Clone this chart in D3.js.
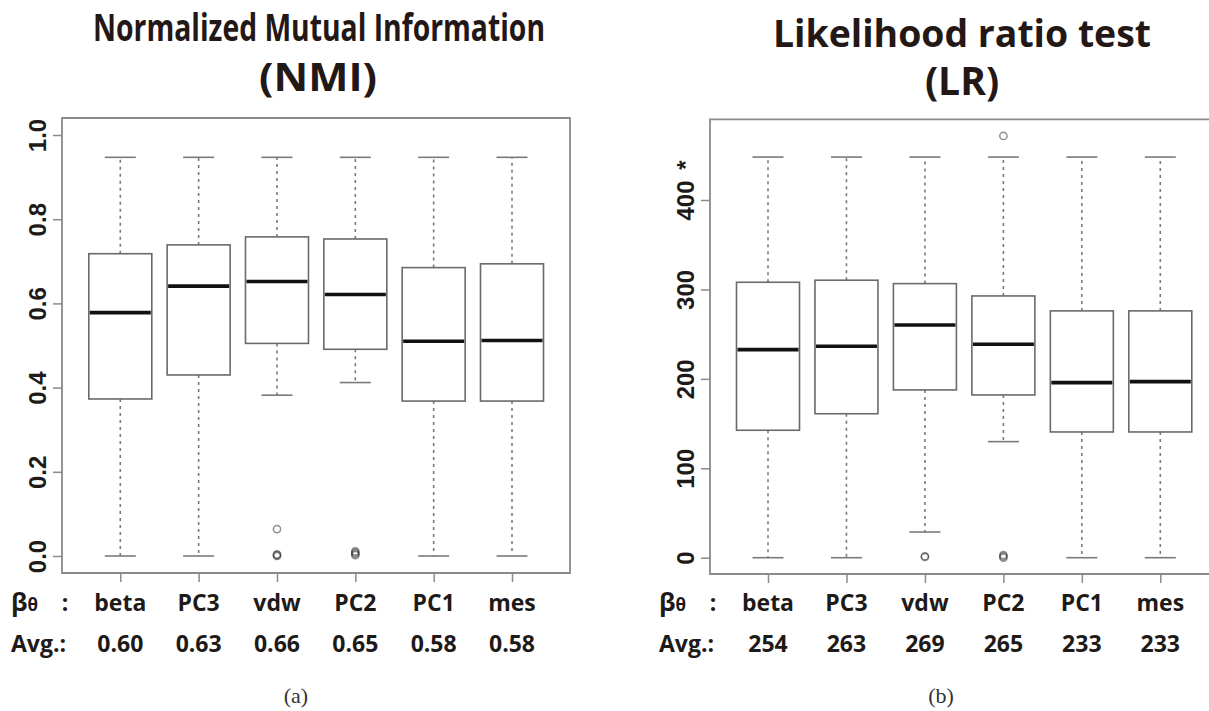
<!DOCTYPE html>
<html>
<head>
<meta charset="utf-8">
<script src="https://d3js.org/d3.v7.min.js"></script>
<style>
  html, body { margin: 0; padding: 0; background: #fff; }
  svg { display: block; }
</style>
</head>
<body>
<svg id="chart" width="1209" height="711"></svg>
<script>
// Shared categories (beta-theta method) for both panels
const categories = ["beta", "PC3", "vdw", "PC2", "PC1", "mes"];

// Panel (a): Normalized Mutual Information
const nmiLowerWhisker = [0.0, 0.0, 0.382, 0.412, 0.0, 0.0];
const nmiQ1           = [0.373, 0.430, 0.505, 0.491, 0.368, 0.368];
const nmiMedian       = [0.578, 0.641, 0.652, 0.621, 0.510, 0.512];
const nmiQ3           = [0.718, 0.739, 0.758, 0.753, 0.685, 0.694];
const nmiUpperWhisker = [0.947, 0.947, 0.947, 0.947, 0.947, 0.947];
const nmiOutliers     = [[], [], [0.064, 0.0, 0.002, 0.004], [0.002, 0.005, 0.008, 0.011], [], []];
const nmiAvg          = ["0.60", "0.63", "0.66", "0.65", "0.58", "0.58"];
const nmiTicks        = [0, 0.2, 0.4, 0.6, 0.8, 1.0];

// Panel (b): Likelihood ratio test
const lrLowerWhisker = [0, 0, 28.7, 129.8, 0, 0];
const lrQ1           = [142.5, 161.0, 187.6, 182.0, 140.6, 140.6];
const lrMedian       = [232.7, 236.5, 260.3, 238.7, 195.8, 196.9];
const lrQ3           = [308.0, 310.3, 306.5, 292.7, 276.0, 276.0];
const lrUpperWhisker = [448, 448, 448, 448, 448, 448];
const lrOutliers     = [[], [], [0.8, 1.6], [471.7, 0.0, 1.5, 3.0], [], []];
const lrAvg          = ["254", "263", "269", "265", "233", "233"];
const lrTicks        = [0, 100, 200, 300, 400];

const svg = d3.select("#chart");
const ink = "#1e1a18";
const labelFont = "'Open Sans', 'Noto Sans', sans-serif";

function drawPanel(p) {
  const g = svg.append("g");

  const y = d3.scaleLinear().domain(p.yDomain).range(p.yRange);
  const x = d3.scalePoint().domain(categories).range(p.xRange);

  // plot frame
  g.append("path")
    .attr("d", p.closedRight
      ? `M${p.left},${p.top}H${p.right}V${p.bottom}H${p.left}Z`
      : `M${p.right},${p.top}H${p.left}V${p.bottom}H${p.right}`)
    .attr("fill", "none").attr("stroke", "#8a8a8a").attr("stroke-width", 1.8);

  // y axis with rotated labels
  const yAxis = g.append("g").attr("transform", `translate(${p.left},0)`)
    .call(d3.axisLeft(y).tickValues(p.ticks).tickSize(9).tickFormat(p.tickFormat));
  yAxis.select(".domain").remove();
  yAxis.selectAll(".tick line").attr("stroke", "#8a8a8a").attr("stroke-width", 1.5);
  yAxis.selectAll(".tick text")
    .attr("transform", "rotate(-90)")
    .attr("x", 0).attr("y", -16).attr("dy", 0)
    .attr("text-anchor", "middle")
    .attr("fill", ink)
    .style("font-family", "'Liberation Sans', Arial, sans-serif")
    .style("font-weight", "bold")
    .style("font-size", "24px");

  if (p.star !== undefined) {
    g.append("text")
      .attr("transform", `translate(${p.left - 16},${y(p.star)}) rotate(-90)`)
      .attr("text-anchor", "middle")
      .attr("fill", ink)
      .style("font-family", "'Liberation Sans', Arial, sans-serif")
      .style("font-weight", "bold").style("font-size", "24px")
      .text("*");
  }

  // x axis ticks (no labels; labels drawn as table rows below)
  const xAxis = g.append("g").attr("transform", `translate(0,${p.bottom})`)
    .call(d3.axisBottom(x).tickSize(9).tickFormat(""));
  xAxis.select(".domain").remove();
  xAxis.selectAll(".tick line").attr("stroke", "#8a8a8a").attr("stroke-width", 1.5);

  const boxW = 63, capW = 31;
  const data = categories.map((c, i) => ({
    c, lo: p.lower[i], q1: p.q1[i], med: p.median[i], q3: p.q3[i], hi: p.upper[i], out: p.outliers[i]
  }));

  const boxes = g.selectAll(".box").data(data).join("g").attr("class", "box")
    .attr("transform", d => `translate(${x(d.c)},0)`);

  // dashed whiskers
  boxes.append("line").attr("x1", 0).attr("x2", 0)
    .attr("y1", d => y(d.q3)).attr("y2", d => y(d.hi))
    .attr("stroke", "#7a7a7a").attr("stroke-width", 1.6).attr("stroke-dasharray", "3,4");
  boxes.append("line").attr("x1", 0).attr("x2", 0)
    .attr("y1", d => y(d.q1)).attr("y2", d => y(d.lo))
    .attr("stroke", "#7a7a7a").attr("stroke-width", 1.6).attr("stroke-dasharray", "3,4");
  // whisker caps
  boxes.append("line").attr("x1", -capW / 2).attr("x2", capW / 2)
    .attr("y1", d => y(d.hi)).attr("y2", d => y(d.hi))
    .attr("stroke", "#7a7a7a").attr("stroke-width", 1.6);
  boxes.append("line").attr("x1", -capW / 2).attr("x2", capW / 2)
    .attr("y1", d => y(d.lo)).attr("y2", d => y(d.lo))
    .attr("stroke", "#7a7a7a").attr("stroke-width", 1.6);
  // box
  boxes.append("rect").attr("x", -boxW / 2).attr("width", boxW)
    .attr("y", d => y(d.q3)).attr("height", d => y(d.q1) - y(d.q3))
    .attr("fill", "#fff").attr("stroke", "#6a6a6a").attr("stroke-width", 1.6);
  // median
  boxes.append("line").attr("x1", -boxW / 2 + 1).attr("x2", boxW / 2 - 1)
    .attr("y1", d => y(d.med)).attr("y2", d => y(d.med))
    .attr("stroke", "#111").attr("stroke-width", 3.6);
  // outliers (overlapping points darken each other)
  boxes.selectAll("circle").data(d => d.out).join("circle")
    .attr("cx", 0).attr("cy", v => y(v)).attr("r", 3.6)
    .attr("fill", "none").attr("stroke", "#333").attr("stroke-opacity", 0.55).attr("stroke-width", 1.5);

  // table rows under the plot
  const rowFont = t => t.style("font-family", labelFont).style("font-weight", "700")
    .style("font-size", "23px").attr("fill", ink);

  const r1 = g.append("text").attr("x", p.left - 51).attr("y", 611).call(rowFont);
  r1.append("tspan").style("font-size", "25px").text("β");
  r1.append("tspan").style("font-size", "17px").text("θ");
  g.append("text").attr("x", p.left + 3).attr("y", 611).attr("text-anchor", "middle").call(rowFont).text(":");
  g.append("text").attr("x", p.left - 51).attr("y", 652).call(rowFont).text("Avg.:");

  g.selectAll(".cat").data(categories).join("text").attr("class", "cat")
    .attr("x", c => x(c)).attr("y", 611).attr("text-anchor", "middle").call(rowFont).text(c => c);
  g.selectAll(".avg").data(p.avg).join("text").attr("class", "avg")
    .attr("x", (v, i) => x(categories[i])).attr("y", 652).attr("text-anchor", "middle").call(rowFont).text(v => v);

  // titles
  p.titles.forEach(t => {
    const el = g.append("text").attr("x", t.x).attr("y", t.y).attr("text-anchor", "middle")
      .attr("fill", "#231815")
      .style("font-family", labelFont).style("font-weight", "700").style("font-size", t.size + "px")
      .text(t.text);
    if (t.len) el.attr("textLength", t.len).attr("lengthAdjust", "spacingAndGlyphs");
  });

  // sub-figure caption
  g.append("text").attr("x", p.captionX).attr("y", 703).attr("text-anchor", "middle")
    .attr("fill", "#333")
    .style("font-family", "'Liberation Serif', 'DejaVu Serif', serif").style("font-size", "22px")
    .text(p.caption);
}

drawPanel({
  left: 62, right: 570, top: 118, bottom: 573, closedRight: true,
  yDomain: [0, 1], yRange: [556, 135], xRange: [120.3, 512],
  ticks: nmiTicks, tickFormat: d3.format(".1f"),
  lower: nmiLowerWhisker, q1: nmiQ1, median: nmiMedian, q3: nmiQ3, upper: nmiUpperWhisker,
  outliers: nmiOutliers, avg: nmiAvg,
  titles: [
    { text: "Normalized Mutual Information", x: 319, y: 41, size: 37, len: 452 },
    { text: "(NMI)", x: 318, y: 91, size: 39, len: 118 }
  ],
  caption: "(a)", captionX: 296
});

drawPanel({
  left: 710, right: 1230, top: 119.3, bottom: 574, closedRight: false,
  yDomain: [0, 400], yRange: [557.7, 200], xRange: [768, 1160.3],
  ticks: lrTicks, tickFormat: d3.format("d"), star: 439,
  lower: lrLowerWhisker, q1: lrQ1, median: lrMedian, q3: lrQ3, upper: lrUpperWhisker,
  outliers: lrOutliers, avg: lrAvg,
  titles: [
    { text: "Likelihood ratio test", x: 962, y: 47, size: 37, len: 378 },
    { text: "(LR)", x: 962, y: 95, size: 39 }
  ],
  caption: "(b)", captionX: 941
});
</script>
</body>
</html>
